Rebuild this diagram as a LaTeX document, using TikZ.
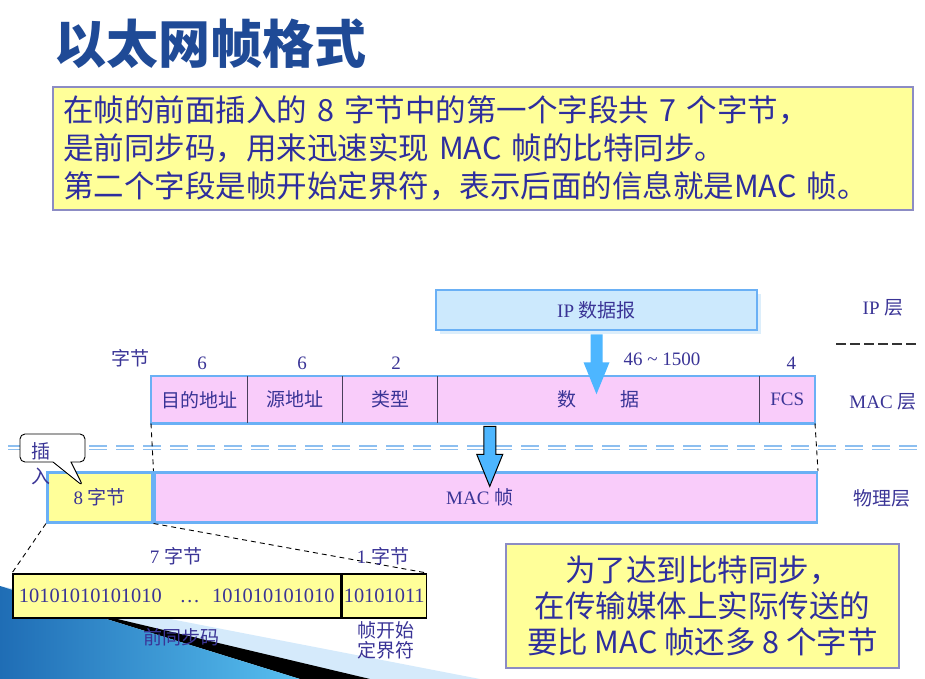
\documentclass[tikz,border=0pt]{standalone}
\usepackage{fontspec}
\setmainfont{Liberation Serif}
\newfontfamily\cjk{Noto Sans CJK SC}
\usetikzlibrary{positioning, shapes.callouts, shadows}
\definecolor{titleblue}{HTML}{1F4A96}
\definecolor{introtext}{HTML}{2E2E9E}
\definecolor{labelcol}{HTML}{3A3496}
\definecolor{yellowfill}{HTML}{FFFF99}
\definecolor{pinkfill}{HTML}{F9CCFA}
\definecolor{ipfill}{HTML}{CCE9FD}
\definecolor{ipshade}{HTML}{DCEEFB}
\definecolor{rowblue}{HTML}{6AB0F5}
\definecolor{arrowblue}{HTML}{4DB6FF}
\definecolor{dashblue}{HTML}{8DBFF0}
\definecolor{divgray}{HTML}{4A3F5A}
\definecolor{noteborder}{HTML}{8C8CC4}
\definecolor{swdark}{HTML}{1F6DB5}
\definecolor{swlight}{HTML}{57BFF0}
\definecolor{swpale}{HTML}{D5EAFB}
\newcommand{\zh}[1]{{\cjk #1}}
\newcommand{\lblfont}{\fontsize{19}{22}\selectfont}
\newcommand{\bitfont}{\fontsize{20.4}{22}\selectfont}
\newcommand{\titlefont}{\cjk\bfseries\fontsize{52}{56}\selectfont}
\tikzset{
  field/.style={fill=pinkfill, inner sep=0pt, minimum height=47pt, text=labelcol, font=\lblfont},
  lbl/.style={inner sep=0pt, text=labelcol, font=\lblfont},
  ipbox/.style={fill=ipfill, draw=rowblue, line width=2.5pt, inner sep=0pt, minimum width=321pt,
    minimum height=40pt, text=labelcol, font=\lblfont,
    drop shadow={shadow xshift=4pt, shadow yshift=-4pt, fill=ipshade, opacity=1}},
  notebox/.style={fill=yellowfill, draw=noteborder, line width=1.5pt, inner sep=0pt, text=introtext},
  bitbox/.style={fill=yellowfill, draw=black, line width=1.5pt, inner sep=0pt, minimum height=44pt,
    text=labelcol, font=\bitfont},
  rowline/.style={draw=rowblue, line width=2.5pt},
  divline/.style={draw=divgray, line width=1.2pt},
  guide/.style={draw=black, line width=0.9pt, dash pattern=on 5pt off 4pt},
  sepdash/.style={draw=black!80, line width=1.6pt, dash pattern=on 10pt off 4pt},
  layerline/.style={draw=dashblue, line width=1.2pt, double=white, double distance=2pt,
    dash pattern=on 18pt off 9pt},
  bigarrow/.pic={\path[pic actions] (-6,0) -- (6,0) -- (6,28) -- (13,28) -- (0,60) -- (-13,28) -- (-6,28) -- cycle;}
}
\begin{document}
\begin{tikzpicture}[x=1pt, y=-1pt]
  \useasboundingbox (0,0) rectangle (925,679);
  % slide background swoosh
  \fill[swpale] (0,586) -- (480,679) -- (300,679) -- cycle;
  \fill[black] (71,608) -- (370,679) -- (300,679) -- cycle;
  \shade[left color=swdark, right color=swlight] (0,586) -- (300,679) -- (0,679) -- cycle;

  % title and intro text
  \node[font=\titlefont, text=titleblue, inner sep=0pt] (title) at (210,44) {以太网帧格式};
  \node[notebox, minimum width=860pt, minimum height=123pt, text width=840pt, align=left,
    font={\cjk\fontsize{30.5}{38}\selectfont}] (intro) at (483,148.5)
    {在帧的前面插入的 8 字节中的第一个字段共 7 个字节，\\
     是前同步码，用来迅速实现 MAC 帧的比特同步。\\
     第二个字段是帧开始定界符，表示后面的信息就是MAC 帧。};

  % IP layer
  \node[ipbox] (ip) at (596.5,310) {IP \zh{数据报}};
  \node[lbl] (iplayer) at (883,308) {IP \zh{层}};
  \coordinate (sepa) at (836,344);
  \coordinate (sepb) at (918,344);
  \draw[sepdash] (sepa) -- (sepb);

  % MAC frame
  \node[field, minimum width=96pt, anchor=north west] (dst) at (151,376) {\zh{目的地址}};
  \node[field, minimum width=95pt, right=0pt of dst] (src) {\zh{源地址}};
  \node[field, minimum width=94pt, right=0pt of src] (type) {\zh{类型}};
  \node[field, minimum width=322pt, right=0pt of type] (data) {\zh{数\hspace{44pt}据}};
  \node[field, minimum width=55pt, right=0pt of data] (fcs) {FCS};
  \draw[rowline] (dst.north west) rectangle (fcs.south east);
  \foreach \f in {src,type,data,fcs}
    \draw[divline] (\f.north west) -- (\f.south west);
  \node[lbl] (maclayer) at (883,402) {MAC \zh{层}};

  \node[lbl] (bytes) at (130,358) {\zh{字节}};
  \node[lbl, above=6pt of dst, xshift=3pt] (n6a) {6};
  \node[lbl, above=6pt of src, xshift=7pt] (n6b) {6};
  \node[lbl, above=6pt of type, xshift=6pt] (n2) {2};
  \node[lbl] (nvar) at (662,359) {46 \textasciitilde{} 1500};
  \node[lbl, above=6pt of fcs, xshift=4pt] (n4) {4};

  \pic[fill=arrowblue] at ([yshift=-3pt]ip.south) {bigarrow};

  % layer boundary
  \coordinate (bl) at (8,447.5);
  \coordinate (br) at (925,447.5);
  \draw[layerline] (bl) -- (br);

  % physical layer
  \node[field, fill=yellowfill, draw=rowblue, line width=2.5pt, minimum width=105pt, minimum height=50pt,
    anchor=north west] (pre8) at (46,471) {8 \zh{字节}};
  \node[field, draw=rowblue, line width=2.5pt, minimum width=662pt, minimum height=50pt,
    right=0pt of pre8] (macf) {\hspace*{-12pt}MAC \zh{帧}};
  \node[lbl] (phylayer) at (882,498) {\zh{物理层}};
  \draw[guide] (dst.south west) -- (macf.north west);
  \draw[guide] (fcs.south east) -- (macf.north east);

  \coordinate (a2) at (macf.north |- data.south);
  \pic[fill=arrowblue, draw=black, line width=1pt] at ([xshift=4pt,yshift=-3pt]a2) {bigarrow};

  \node[rectangle callout, draw=black, fill=white, line width=0.9pt, rounded corners=5pt,
    minimum width=65pt, minimum height=28pt, callout absolute pointer={(83,486)},
    callout pointer width=18pt] (ins) at (52.5,448) {};
  \node[lbl, align=center, font=\fontsize{19}{25}\selectfont] (instxt) at (41,463.5) {\zh{插}\\\zh{入}};

  % preamble and start delimiter
  \node[bitbox, minimum width=328pt, anchor=north west] (prebits) at (12,573)
    {10101010101010\hspace{18pt}…\hspace{12pt}101010101010};
  \node[bitbox, minimum width=84pt, right=0pt of prebits] (sfd) {10101011};
  \draw[guide] (pre8.south west) -- (prebits.north west);
  \draw[guide] (pre8.south east) -- (sfd.north east);
  \node[lbl] (b7) at (176,556) {7 \zh{字节}};
  \node[lbl] (b1) at (383,556) {1 \zh{字节}};
  \node[lbl] (presync) at (181,637) {\zh{前同步码}};
  \node[lbl, align=center, font=\fontsize{19}{20}\selectfont] (sfdname) at (386,640) {\zh{帧开始}\\\zh{定界符}};

  % note
  \node[notebox, minimum width=393pt, minimum height=124pt, align=center,
    font={\cjk\fontsize{30.5}{36}\selectfont}] (sync) at (702.5,606)
    {为了达到比特同步，\\在传输媒体上实际传送的\\要比 MAC 帧还多 8 个字节};
\end{tikzpicture}
\end{document}
